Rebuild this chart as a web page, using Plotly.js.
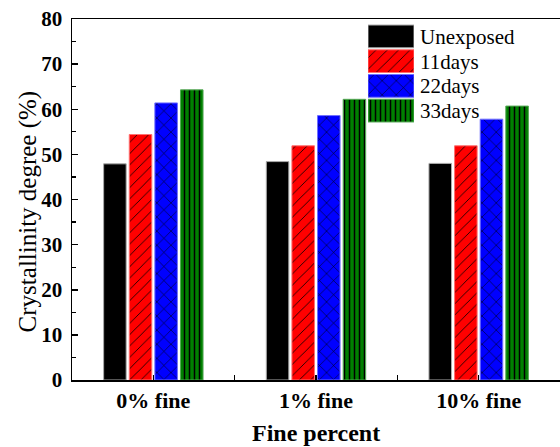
<!DOCTYPE html>
<html>
<head>
<meta charset="utf-8">
<script src="https://cdn.plot.ly/plotly-3.0.1.min.js"></script>
<style>html,body{margin:0;padding:0;background:#fff;}#chart{width:560px;height:447px;}</style>
</head>
<body>
<div id="chart"></div>
<script>
// ---- data ----
const categories = ['0% fine', '1% fine', '10% fine'];
const seriesNames = ['Unexposed', '11days', '22days', '33days'];
const unexposed = [47.9, 48.4, 48.0];
const days11 = [54.4, 51.9, 51.9];
const days22 = [61.4, 58.6, 57.8];
const days33 = [64.3, 62.2, 60.7];
const yTickVals = [0, 10, 20, 30, 40, 50, 60, 70, 80];

// ---- styles ----
const seriesValues = [unexposed, days11, days22, days33];
const fills = ['#000000', '#ff0000', '#0000ff', '#008000'];
const edges = ['#aaaaaa', '#ff7070', '#7070ff', '#55aa55'];
const shapes = ['', '/', 'x', '|'];
const sizes = [8, 8, 10, 5];
const solids = [0.2, 0.1, 0.1, 0.3];
const xpos = categories.map((c, i) => i);
const font = "'Liberation Serif','Times New Roman',serif";

function pat(k) {
  return {shape: shapes[k], fgcolor: '#000000', bgcolor: fills[k], fillmode: 'replace', size: sizes[k], solidity: solids[k]};
}

const traces = [];
seriesNames.forEach((name, k) => {
  traces.push({
    type: 'bar', name: name, x: xpos, y: seriesValues[k],
    marker: {color: fills[k], line: {color: edges[k], width: 1}, pattern: pat(k)},
    showlegend: false, hoverinfo: 'skip'
  });
});
// legend swatches drawn on an inset axis
seriesNames.forEach((name, k) => {
  traces.push({
    type: 'bar', orientation: 'h', x: [1], y: [name], xaxis: 'x2', yaxis: 'y2',
    offsetgroup: 'legend', width: 0.92,
    marker: {color: fills[k], line: {color: edges[k], width: 1}, pattern: pat(k)},
    showlegend: false, hoverinfo: 'skip'
  });
});

const layout = {
  width: 560, height: 447,
  margin: {l: 72, r: 0, t: 19, b: 67},
  paper_bgcolor: '#fff', plot_bgcolor: '#fff',
  font: {family: font, color: '#000'},
  barmode: 'group', bargap: 0.37, bargroupgap: 0.12,
  xaxis: {
    range: [-0.5, 2.5], tickvals: xpos, ticktext: categories.map(c => '<b>' + c + '</b>'),
    ticks: 'inside', ticklen: 5, tickwidth: 1.5, tickcolor: '#000',
    minor: {tickvals: [0.5, 1.5], ticks: 'inside', ticklen: 5, tickwidth: 1.5, tickcolor: '#000'},
    showline: true, linewidth: 1.5, linecolor: '#000', mirror: true,
    showgrid: false, zeroline: false,
    tickfont: {family: font, size: 22, color: '#000'}
  },
  yaxis: {
    range: [0, 80], tickvals: yTickVals, ticktext: yTickVals.map(v => '<b>' + v + '</b>'),
    ticks: 'inside', ticklen: 6, tickwidth: 1.5, tickcolor: '#000',
    minor: {dtick: 5, ticks: 'inside', ticklen: 4, tickwidth: 1.2, tickcolor: '#000'},
    showline: true, linewidth: 1.5, linecolor: '#000',
    showgrid: false, zeroline: false, ticklabelstandoff: 4,
    tickfont: {family: font, size: 21, color: '#000'}
  },
  xaxis2: {domain: [0.6066, 0.7008], anchor: 'y2', range: [0, 1], visible: false, fixedrange: true},
  yaxis2: {
    domain: [0.712, 0.986], anchor: 'x2', type: 'category', autorange: 'reversed',
    tickmode: 'array', tickvals: seriesNames, ticktext: seriesNames,
    side: 'right', showline: false, showgrid: false, zeroline: false, ticks: '',
    ticklabelstandoff: 5,
    tickfont: {family: font, size: 21, color: '#000'}
  },
  annotations: [{
    text: 'Crystallinity degree (%)', textangle: -90, showarrow: false,
    xref: 'paper', yref: 'paper', x: -0.0902, y: 0.467, xanchor: 'center', yanchor: 'middle',
    font: {family: font, size: 25, color: '#000'}
  }, {
    text: '<b>Fine percent</b>', showarrow: false,
    xref: 'paper', yref: 'paper', x: 0.5, y: -0.147, xanchor: 'center', yanchor: 'middle',
    font: {family: font, size: 24, color: '#000'}
  }]
};

Plotly.newPlot('chart', traces, layout, {staticPlot: true, displayModeBar: false});
</script>
</body>
</html>
